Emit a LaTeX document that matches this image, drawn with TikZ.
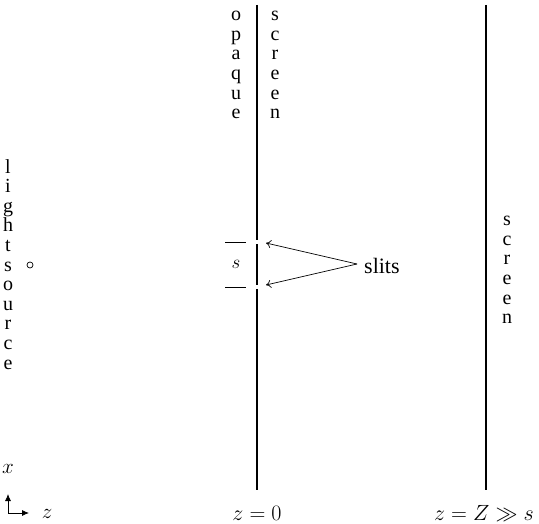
\RequirePackage{fix-cm}
\documentclass[tikz,border=0pt]{standalone}
\usepackage{fontspec}
\setmainfont{Liberation Serif}
\usepackage{amssymb}
\usetikzlibrary{positioning,arrows.meta}

\tikzset{
  vtext/.style={align=center, inner sep=0pt, font=\fontsize{20}{19.6}\selectfont},
  mtext/.style={inner sep=0pt, font=\fontsize{23}{27}\selectfont},
  wall/.style={line width=1.1pt},
}

\begin{document}
\begin{tikzpicture}[x=1pt,y=-1pt]
  \useasboundingbox (0,0) rectangle (539,524);

  % opaque screen with two slits
  \draw[wall] (257,5) -- (257,240.5);
  \draw[wall] (257,244.5) -- (257,285);
  \draw[wall] (257,289) -- (257,490);
  % far screen
  \draw[wall] (486,5) -- (486,490);

  \node (opq) [vtext, anchor=north] at (236,11) {o\\p\\a\\q\\u\\e};
  \node (scr) [vtext, anchor=north] at (275,11) {s\\c\\r\\e\\e\\n};
  \node (far) [vtext, anchor=north] at (507,216) {s\\c\\r\\e\\e\\n};
  \node (lgt) [vtext, anchor=north] at (8,159) {l\\i\\g\\h\\t\\s\\o\\u\\r\\c\\e};

  % source
  \node (src) [circle, draw, line width=0.7pt, inner sep=0pt, minimum size=6pt] at (30,265) {};

  % slit separation
  \draw[line width=0.8pt] (225,242) -- (246,242);
  \draw[line width=0.8pt] (225,287) -- (246,287);
  \node (sep) [mtext, font=\fontsize{19}{22}\selectfont] at (236,264) {$s$};

  \coordinate (upper) at (266,243);
  \coordinate (lower) at (266,285);
  \coordinate (fork) at (357,264);
  \node (slits) [mtext, anchor=west, font=\fontsize{22}{26}\selectfont] at (364,266) {slits};
  \draw [line width=0.7pt, -{To[length=5pt,width=8pt]}] (fork) -- (upper);
  \draw [line width=0.7pt, -{To[length=5pt,width=8pt]}] (fork) -- (lower);

  % axes
  \coordinate (o) at (8,513);
  \coordinate (xa) at (8,494);
  \coordinate (za) at (29,513);
  \draw [line width=0.8pt, -{Latex[length=7pt,width=6pt]}] (o) -- (xa);
  \draw [line width=0.8pt, -{Latex[length=7pt,width=6pt]}] (o) -- (za);
  \node (xl) [mtext, font=\fontsize{21}{24}\selectfont] at (8,469) {$x$};
  \node (zl) [mtext, font=\fontsize{21}{24}\selectfont] at (47,514) {$z$};

  \node (z0) [mtext, font=\fontsize{22}{26}\selectfont] at (257,513) {$z=0$};
  \node (zZ) [mtext, font=\fontsize{22}{26}\selectfont] at (484,513) {$z=Z\gg s$};
\end{tikzpicture}
\end{document}
